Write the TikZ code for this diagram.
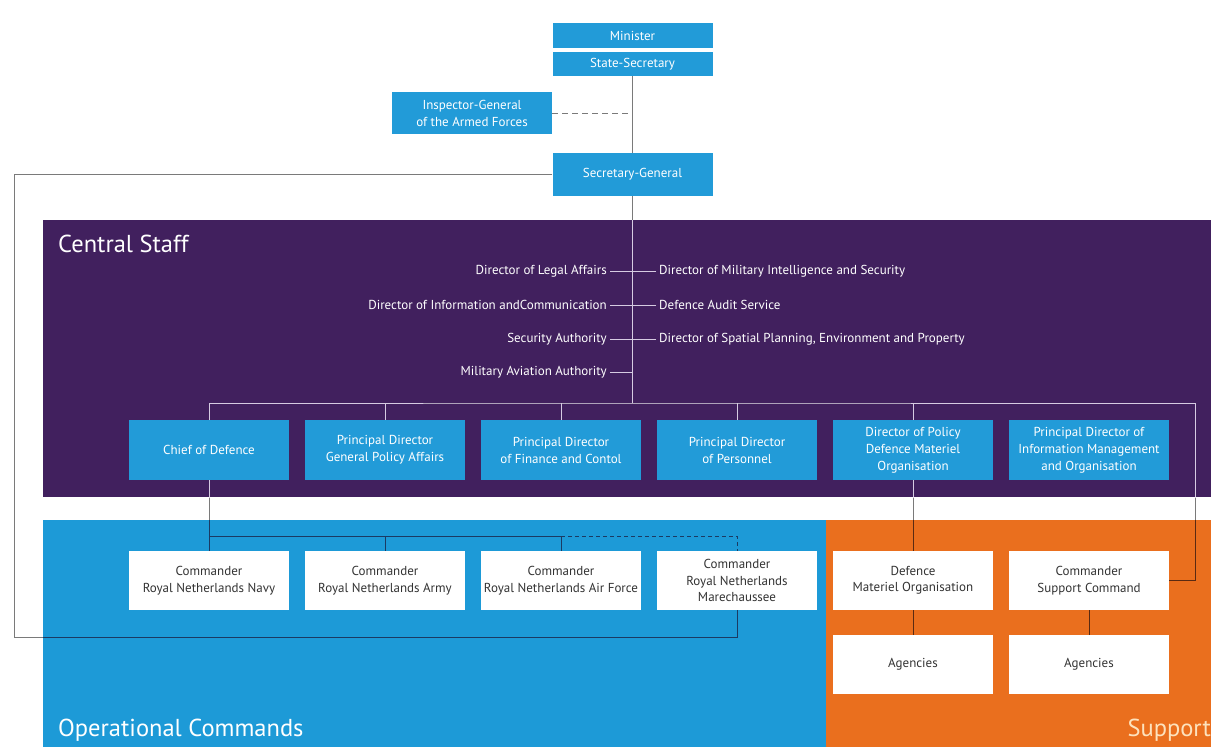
\documentclass[tikz,border=0pt]{standalone}
\usepackage{fontspec}
\setmainfont{PT Sans}
\usepackage{xcolor}
\usepackage{tikz}

\definecolor{staffpurple}{HTML}{41205E}
\definecolor{opsblue}{HTML}{1D9AD7}
\definecolor{boxblue}{HTML}{229BD8}
\definecolor{suporange}{HTML}{EA6F1E}
\definecolor{linegray}{HTML}{7A7A7A}
\definecolor{stafflink}{HTML}{D6CBE2}
\definecolor{opslink}{HTML}{1B3A63}
\definecolor{suplink}{HTML}{5A2A12}
\definecolor{textgray}{HTML}{333333}
\definecolor{supportlabel}{HTML}{FDE2BD}

% all connectors, drawn once plain and again clipped to each coloured area
\newcommand\orglinks{%
	\draw[lnk] (state) -- (secgen);
	\draw[lnk,dash pattern=on 6pt off 4pt] (inspector.east) -- (inspector.east -| state);
	\draw[lnk] (secgen) -- (staffbus);
	\draw[lnk] (secgen.west) -| (leftturn) -| (marech.south);
	\foreach \n in {legal,infocom,secauth,milav}
		\draw[lnk] (\n.east) -- (\n.east -| secgen);
	\foreach \n in {milint,audit,spatial}
		\draw[lnk] (\n.west) -- (\n.west -| secgen);
	\draw[lnk] (chief.north) |- (staffbus) -- (rightturn) |- (support.east);
	\foreach \n in {gpa,finance,personnel,dmopol}
		\draw[lnk] (\n.north) -- (\n.north |- staffbus);
	\draw[lnk] (chief) -- (navy);
	\draw[lnk] (navy.north |- opsbus) -- (airforce.north |- opsbus);
	\foreach \n in {army,airforce}
		\draw[lnk] (\n.north) -- (\n.north |- opsbus);
	\draw[lnk,dash pattern=on 4pt off 3pt] (airforce.north |- opsbus) -| (marech.north);
	\draw[lnk] (dmopol) -- (dmo);
	\draw[lnk] (dmo) -- (agencyA);
	\draw[lnk] (support) -- (agencyB);
}

\begin{document}
\begin{tikzpicture}[x=1pt,y=-1pt,
	bluebox/.style={fill=boxblue,text=white,minimum width=160pt,inner sep=0pt,align=center,font=\fontsize{13}{17}\selectfont},
	whitebox/.style={fill=white,text=textgray,minimum width=160pt,minimum height=59pt,inner sep=0pt,align=center,font=\fontsize{13}{16.5}\selectfont},
	stafftext/.style={text=white,inner sep=3pt,font=\fontsize{13}{15}\selectfont},
	arealabel/.style={inner sep=0pt,text=white,font=\fontsize{24.5}{28}\selectfont},
	lnk/.style={draw=linegray,line width=1pt}]
	\useasboundingbox (0,0) rectangle (1211,747);

	% coloured areas
	\fill[staffpurple] (43,220) rectangle (1211,497);
	\fill[opsblue] (43,520) rectangle (826,747);
	\fill[suporange] (826,520) rectangle (1211,747);
	\node[arealabel,anchor=base west] (stafflabel) at (58,252) {Central Staff};
	\node[arealabel,anchor=base west] (opslabel) at (58,736) {Operational Commands};
	\node[arealabel,anchor=base east,text=supportlabel] (suplabel) at (1211,736) {Support};

	% top
	\node[bluebox,minimum height=25pt] (minister) at (632.5,35.5) {Minister};
	\node[bluebox,minimum height=24pt] (state) at (632.5,64) {State-Secretary};
	\node[bluebox,minimum height=42pt] (inspector) at (472,113) {Inspector-General\\of the Armed Forces};
	\node[bluebox,minimum height=43pt] (secgen) at (632.5,174.5) {Secretary-General};

	% central staff directors
	\node[stafftext,anchor=east] (legal) at (610,271) {Director of Legal Affairs};
	\node[stafftext,anchor=east] (infocom) at (610,305) {Director of Information andCommunication};
	\node[stafftext,anchor=east] (secauth) at (610,339) {Security Authority};
	\node[stafftext,anchor=east] (milav) at (610,372) {Military Aviation Authority};
	\node[stafftext,anchor=west] (milint) at (656,271) {Director of Military Intelligence and Security};
	\node[stafftext,anchor=west] (audit) at (656,305) {Defence Audit Service};
	\node[stafftext,anchor=west] (spatial) at (656,339) {Director of Spatial Planning, Environment and Property};

	% central staff boxes
	\node[bluebox,minimum height=60pt] (chief) at (209,450) {Chief of Defence};
	\node[bluebox,minimum height=60pt] (gpa) at (385,450) {Principal Director\\General Policy Affairs};
	\node[bluebox,minimum height=60pt] (finance) at (561,450) {Principal Director\\of Finance and Contol};
	\node[bluebox,minimum height=60pt] (personnel) at (737,450) {Principal Director\\of Personnel};
	\node[bluebox,minimum height=60pt] (dmopol) at (913,450) {Director of Policy\\Defence Materiel\\Organisation};
	\node[bluebox,minimum height=60pt] (infomgmt) at (1089,450) {Principal Director of\\Information Management\\and Organisation};

	% operational commands and support
	\node[whitebox] (navy) at (209,580.5) {Commander\\Royal Netherlands Navy};
	\node[whitebox] (army) at (385,580.5) {Commander\\Royal Netherlands Army};
	\node[whitebox] (airforce) at (561,580.5) {Commander\\Royal Netherlands Air Force};
	\node[whitebox] (marech) at (737,580.5) {Commander\\Royal Netherlands\\Marechaussee};
	\node[whitebox] (dmo) at (913,580.5) {Defence\\Materiel Organisation};
	\node[whitebox] (support) at (1089,580.5) {Commander\\Support Command};
	\node[whitebox] (agencyA) at (913,664.5) {Agencies};
	\node[whitebox] (agencyB) at (1089,664.5) {Agencies};

	\coordinate (staffbus) at (632.5,403);
	\coordinate (rightturn) at (1195,403);
	\coordinate (leftturn) at (14,637);
	\coordinate (opsbus) at (209,536);

	\orglinks
	\begin{scope}
		\clip (43,220) rectangle (1211,497);
		\tikzset{lnk/.style={draw=stafflink,line width=1pt}}
		\orglinks
	\end{scope}
	\begin{scope}
		\clip (43,520) rectangle (826,747);
		\tikzset{lnk/.style={draw=opslink,line width=1pt}}
		\orglinks
	\end{scope}
	\begin{scope}
		\clip (826,520) rectangle (1211,747);
		\tikzset{lnk/.style={draw=suplink,line width=1pt}}
		\orglinks
	\end{scope}
\end{tikzpicture}
\end{document}
